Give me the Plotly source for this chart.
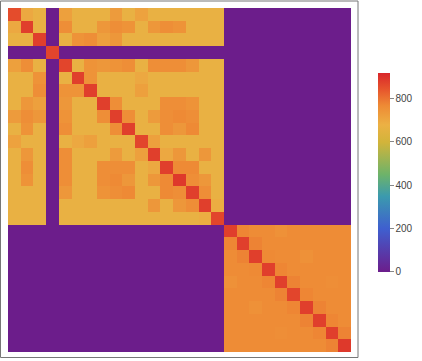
import plotly.graph_objects as go

N1 = 17  # size of first block
N2 = 10  # size of second block
ZERO_IDX = 3  # row/column of block 1 that is empty apart from its diagonal

diag1 = [860, 880, 880, 870, 870, 880, 880, 880, 880, 880, 870, 880, 880, 890, 880, 880, 870]
diag2 = [880, 880, 880, 880, 880, 870, 880, 880, 880, 890]

base1 = 672
pairs1 = {
    (0, 1): 700, (0, 4): 720, (0, 8): 730, (0, 10): 715,
    (1, 4): 760, (1, 7): 740, (1, 8): 760, (1, 9): 750, (1, 11): 740, (1, 12): 760, (1, 13): 750,
    (2, 5): 750, (2, 6): 760, (2, 7): 720, (2, 8): 740,
    (4, 6): 750, (4, 7): 740, (4, 8): 750, (4, 9): 760, (4, 11): 760, (4, 12): 760, (4, 13): 760, (4, 14): 740,
    (5, 6): 750, (5, 10): 700,
    (6, 10): 720,
    (7, 8): 760, (7, 12): 760, (7, 13): 760, (7, 14): 750,
    (8, 9): 760, (8, 11): 730, (8, 12): 760, (8, 13): 770, (8, 14): 760,
    (9, 12): 760, (9, 13): 740, (9, 14): 770,
    (10, 11): 720,
    (11, 12): 700, (11, 13): 740, (11, 15): 740,
    (12, 13): 770, (12, 14): 770,
    (13, 14): 760, (13, 15): 740,
    (14, 15): 760,
    (15, 16): 690,
}
base2 = 765
pairs2 = {
    (0, 1): 775, (1, 2): 780, (2, 3): 770, (3, 4): 775, (4, 5): 780,
    (5, 6): 775, (6, 7): 780, (7, 8): 775, (8, 9): 780,
    (0, 4): 755, (2, 6): 755, (4, 8): 760,
}

N = N1 + N2
z = [[0.0] * N for _ in range(N)]
for i in range(N1):
    for j in range(N1):
        if i == j:
            z[i][j] = diag1[i]
        elif i == ZERO_IDX or j == ZERO_IDX:
            z[i][j] = 0
        else:
            a, b = min(i, j), max(i, j)
            z[i][j] = pairs1.get((a, b), base1)
for i in range(N2):
    for j in range(N2):
        if i == j:
            v = diag2[i]
        else:
            a, b = min(i, j), max(i, j)
            v = pairs2.get((a, b), base2)
        z[N1 + i][N1 + j] = v

zmax = 920
colorscale = [
    [0.0, "#6c1d8b"],
    [200 / zmax, "#3f5fcf"],
    [350 / zmax, "#3b9aae"],
    [450 / zmax, "#6db36a"],
    [600 / zmax, "#d2b43a"],
    [680 / zmax, "#ecb144"],
    [770 / zmax, "#ee8a35"],
    [840 / zmax, "#e7582d"],
    [1.0, "#d9262a"],
]

fig = go.Figure(go.Heatmap(
    z=z,
    x=list(range(N)),
    y=list(range(N)),
    zmin=0, zmax=zmax,
    colorscale=colorscale,
    colorbar=dict(
        xref="container", yref="container",
        x=378 / 422, xanchor="left",
        y=76 / 361, yanchor="bottom",
        len=209 / 361, lenmode="fraction",
        thickness=12, thicknessmode="pixels",
        outlinewidth=0,
        tickvals=[0, 200, 400, 600, 800],
        ticks="outside", ticklen=4, tickcolor="#888",
        tickfont=dict(family="Liberation Sans", size=10, color="#444"),
        xpad=0, ypad=0,
    ),
))

fig.update_xaxes(visible=False, range=[-0.5, N - 0.5])
fig.update_yaxes(visible=False, range=[N - 0.5, -0.5])

fig.add_shape(
    type="rect", xref="paper", yref="paper",
    x0=(0.5 - 8) / 343, x1=(358 - 8) / 343,
    y0=(352 - 357.5) / 344, y1=(352 - 1) / 344,
    line=dict(color="#777", width=1), fillcolor="rgba(0,0,0,0)", layer="above",
)

fig.update_layout(
    width=422, height=361,
    margin=dict(l=8, r=71, t=8, b=9),
    paper_bgcolor="white", plot_bgcolor="white",
    showlegend=False,
)

fig.write_html("out.html")
